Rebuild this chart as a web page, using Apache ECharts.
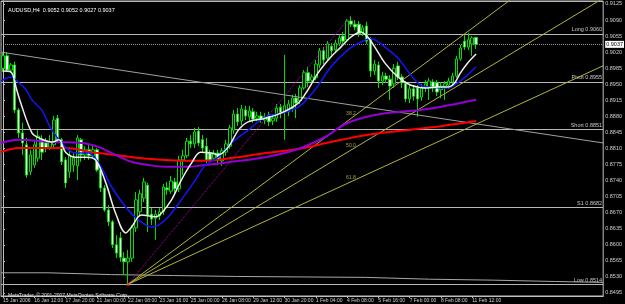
<!DOCTYPE html>
<html><head><meta charset="utf-8">
<script src="https://cdn.jsdelivr.net/npm/echarts@6/dist/echarts.min.js"></script>
<style>html,body{margin:0;padding:0;background:#000;}#c{width:625px;height:304px;}</style>
</head><body><div id="c"></div>
<script>
// ---- data ----
const symbolName = 'AUDUSD,H4';
const copyrightText = 'MetaTrader, © 2001-2007 MetaQuotes Software Corp.';
const timeLabels = ['15 Jan 2006','16 Jan 12:00','17 Jan 20:00','21 Jan 00:00','22 Jan 08:00','23 Jan 16:00','25 Jan 00:00','26 Jan 08:00','29 Jan 12:00','30 Jan 20:00','1 Feb 04:00','4 Feb 08:00','5 Feb 16:00','7 Feb 00:00','8 Feb 08:00','11 Feb 12:00'];
const labelEvery = 8;
const totalSlots = 154;
const priceTicks = [0.8495,0.8530,0.8565,0.8600,0.8635,0.8670,0.8705,0.8740,0.8775,0.8810,0.8845,0.8880,0.8915,0.8950,0.8985,0.9020,0.9055,0.9090,0.9125];
const priceMin = 0.84884, priceMax = 0.91315;
// candles: [open, close, low, high]
const candleOCLH = [
[0.8985,0.9012,0.8977,0.9018],[0.9012,0.8981,0.8977,0.9020],[0.8981,0.8992,0.8975,0.8996],[0.8992,0.8894,0.8887,0.8999],
[0.8894,0.8844,0.8833,0.8898],[0.8844,0.8822,0.8796,0.8866],[0.8818,0.8752,0.8746,0.8833],[0.8759,0.8796,0.8752,0.8807],
[0.8774,0.8818,0.8768,0.8829],[0.8789,0.8837,0.8781,0.8850],[0.8829,0.8802,0.8785,0.8839],[0.8822,0.8811,0.8802,0.8833],
[0.8813,0.8824,0.8807,0.8839],[0.8818,0.8872,0.8813,0.8881],[0.8876,0.8829,0.8824,0.8883],[0.8829,0.8781,0.8774,0.8833],
[0.8785,0.8735,0.8724,0.8791],[0.8759,0.8796,0.8746,0.8807],[0.8774,0.8789,0.8759,0.8800],[0.8772,0.8833,0.8741,0.8839],
[0.8829,0.8796,0.8781,0.8833],[0.8796,0.8807,0.8785,0.8815],[0.8807,0.8794,0.8785,0.8818],[0.8794,0.8807,0.8789,0.8815],
[0.8807,0.8763,0.8759,0.8811],[0.8763,0.8724,0.8715,0.8774],[0.8724,0.8676,0.8672,0.8730],[0.8676,0.8650,0.8641,0.8687],
[0.8650,0.8600,0.8593,0.8654],[0.8600,0.8582,0.8571,0.8621],[0.8615,0.8573,0.8563,0.8628],[0.8571,0.8563,0.8534,0.8584],
[0.8563,0.8571,0.8514,0.8589],[0.8571,0.8637,0.8563,0.8643],[0.8637,0.8698,0.8628,0.8715],[0.8672,0.8711,0.8663,0.8720],
[0.8702,0.8737,0.8693,0.8746],[0.8730,0.8665,0.8628,0.8735],[0.8667,0.8656,0.8643,0.8680],[0.8658,0.8667,0.8611,0.8676],
[0.8663,0.8672,0.8654,0.8680],[0.8672,0.8726,0.8665,0.8733],[0.8724,0.8720,0.8709,0.8737],[0.8717,0.8739,0.8711,0.8750],
[0.8737,0.8722,0.8713,0.8746],[0.8722,0.8785,0.8715,0.8794],[0.8785,0.8794,0.8752,0.8807],[0.8794,0.8826,0.8789,0.8833],
[0.8826,0.8820,0.8811,0.8839],[0.8820,0.8846,0.8811,0.8855],[0.8848,0.8822,0.8815,0.8857],[0.8829,0.8811,0.8802,0.8839],
[0.8815,0.8785,0.8778,0.8833],[0.8800,0.8785,0.8778,0.8807],[0.8789,0.8800,0.8783,0.8807],[0.8800,0.8785,0.8774,0.8807],
[0.8783,0.8805,0.8772,0.8811],[0.8802,0.8820,0.8794,0.8829],[0.8815,0.8855,0.8809,0.8861],[0.8850,0.8885,0.8842,0.8894],
[0.8885,0.8868,0.8859,0.8898],[0.8870,0.8896,0.8861,0.8905],[0.8894,0.8881,0.8872,0.8903],[0.8879,0.8892,0.8870,0.8903],
[0.8890,0.8874,0.8866,0.8898],[0.8876,0.8881,0.8870,0.8890],[0.8881,0.8874,0.8866,0.8890],[0.8872,0.8879,0.8863,0.8887],
[0.8883,0.8868,0.8859,0.8890],[0.8870,0.8876,0.8861,0.8885],[0.8876,0.8898,0.8868,0.8907],[0.8900,0.8887,0.8876,0.8907],
[0.8890,0.8903,0.8829,0.9014],[0.8890,0.8907,0.8881,0.8916],[0.8898,0.8920,0.8890,0.8927],[0.8920,0.8909,0.8876,0.8929],
[0.8914,0.8942,0.8907,0.8948],[0.8942,0.8975,0.8938,0.8981],[0.8975,0.8957,0.8944,0.8988],[0.8959,0.8966,0.8948,0.8972],
[0.8964,0.8994,0.8959,0.9003],[0.8992,0.9023,0.8985,0.9029],[0.9023,0.9003,0.8994,0.9031],[0.9007,0.9038,0.9003,0.9044],
[0.9033,0.9023,0.9014,0.9040],[0.9025,0.9040,0.9020,0.9047],[0.9038,0.9051,0.9033,0.9057],[0.9055,0.9044,0.9038,0.9064],
[0.9047,0.9088,0.9042,0.9092],[0.9088,0.9081,0.9075,0.9099],[0.9081,0.9075,0.9068,0.9090],[0.9081,0.9060,0.9053,0.9088],
[0.9062,0.9073,0.9055,0.9079],[0.9077,0.9044,0.9038,0.9086],[0.9047,0.8979,0.8966,0.9053],[0.8979,0.8994,0.8970,0.9003],
[0.8992,0.8957,0.8942,0.8999],[0.8957,0.8968,0.8948,0.8977],[0.8968,0.8961,0.8953,0.8975],[0.8961,0.8946,0.8916,0.8970],
[0.8951,0.8985,0.8942,0.8994],[0.8990,0.8966,0.8959,0.8999],[0.8966,0.8953,0.8942,0.8972],[0.8951,0.8918,0.8911,0.8957],
[0.8918,0.8940,0.8909,0.8948],[0.8940,0.8924,0.8914,0.8948],[0.8942,0.8918,0.8879,0.8948],[0.8922,0.8942,0.8914,0.8951],
[0.8942,0.8951,0.8933,0.8959],[0.8944,0.8957,0.8916,0.8964],[0.8955,0.8942,0.8933,0.8961],[0.8953,0.8933,0.8924,0.8959],
[0.8938,0.8946,0.8920,0.8955],[0.8946,0.8951,0.8916,0.8957],[0.8948,0.8957,0.8940,0.8964],[0.8955,0.8968,0.8948,0.8975],
[0.8968,0.9005,0.8964,0.9012],[0.9005,0.9029,0.9001,0.9036],[0.9044,0.9031,0.9025,0.9057],[0.9031,0.9047,0.9025,0.9062],
[0.9038,0.9051,0.9012,0.9055],[0.9052,0.9037,0.9027,0.9052]
];
// moving averages: [bar index, price]
const maWhite = [[0,0.8979],[2,0.8977],[3.5,0.8938],[4.5,0.8910],[7.4,0.8844],[9.2,0.8833],[12.5,0.8824],[14.3,0.8829],[16,0.8802],[18.6,0.8791],[21.2,0.8791],[23.7,0.8785],[26.3,0.8735],[28.8,0.8669],[31.4,0.8626],[32.9,0.8639],[35.4,0.8665],[39,0.8661],[40.5,0.8669],[43.1,0.8698],[45.6,0.8741],[48.2,0.8778],[50.5,0.8802],[53.3,0.8800],[55.1,0.8796],[57.6,0.8813],[60.2,0.8850],[62.7,0.8868],[67.1,0.8876],[71.1,0.8887],[75.5,0.8909],[78,0.8938],[80.6,0.8975],[83.9,0.9010],[86.4,0.9031],[89,0.9053],[91.5,0.9064],[93.3,0.9053],[95.1,0.9031],[97.7,0.8996],[101,0.8966],[104.3,0.8948],[108.6,0.8942],[111.2,0.8944],[113.7,0.8944],[115.5,0.8953],[117,0.8975],[118.8,0.8996],[121,0.9016]];
const maBlue = [[-0.5,0.8957],[2,0.8966],[4.1,0.8953],[5.9,0.8938],[7.4,0.8916],[9.9,0.8894],[12.5,0.8850],[16,0.8813],[18.6,0.8800],[21.9,0.8800],[24.5,0.8778],[27.8,0.8726],[31.4,0.8682],[34.7,0.8654],[38,0.8639],[39.8,0.8643],[42.3,0.8661],[45.6,0.8698],[49.2,0.8741],[51.8,0.8774],[55.1,0.8791],[58.4,0.8822],[62.7,0.8850],[67.1,0.8879],[71.1,0.8887],[75.5,0.8900],[79.8,0.8938],[83.9,0.8988],[88.2,0.9025],[91.5,0.9042],[94.1,0.9049],[97.7,0.9031],[101,0.9007],[104.3,0.8970],[106.8,0.8948],[108.6,0.8944],[113.7,0.8942],[116.3,0.8953],[118.8,0.8970],[121,0.8988]];
const maPurple = [[-0.5,0.8822],[4.1,0.8829],[12.5,0.8824],[20.1,0.8822],[24.5,0.8813],[28.8,0.8796],[32.9,0.8781],[37.2,0.8774],[41.6,0.8770],[46.7,0.8770],[51.8,0.8774],[58.4,0.8781],[67.1,0.8791],[75.5,0.8809],[82.4,0.8835],[88.2,0.8866],[96.6,0.8885],[108.6,0.8896],[121,0.8916]];
const maRed = [[-0.5,0.8802],[4.1,0.8811],[16,0.8811],[22.7,0.8802],[28.8,0.8796],[34.7,0.8789],[41.6,0.8785],[50,0.8783],[58.4,0.8789],[67.1,0.8800],[75.5,0.8809],[83.9,0.8824],[92.6,0.8839],[101,0.8848],[108.6,0.8855],[121,0.8870]];
// level lines
const levelNames = ['Long','Pivot','Short','S1','Low'];
const levelValues = [0.9060,0.8955,0.8851,0.8682,0.8514];
const topLevel = 0.9131;
const currentPrice = 0.9037;
// descending trendline anchors [bar index, price]
const trendLine = [[-0.5,0.9020],[153.5,0.8822]];
// Fibonacci fan anchors
const fanOrigin = [32, 0.8514];
const fanPeak = [89, 0.9099];
const fanLevels = [38.2, 50.0, 61.8];
// step line near the bottom: segment start bar index and price
const stairX = [-0.5,11.5,27.8,43.6,59.7,75.5,92.8,109.1,125.2,141.3];
const stairP = [0.8539,0.8535,0.8533,0.8531,0.8530,0.8529,0.8525,0.8523,0.8520,0.8518];

// ---- chart ----
const FONT = "'Liberation Sans Narrow','Liberation Sans',Arial,sans-serif";
const categories = [];
for (let i = 0; i < totalSlots; i++) {
  const k = i / labelEvery;
  categories.push(i % labelEvery === 0 && k < timeLabels.length ? timeLabels[k] : '');
}
const showIdx = (i) => i % labelEvery === 0 && i / labelEvery < timeLabels.length;
const last = candleOCLH[candleOCLH.length - 1];
const titleText = symbolName + '  ' + [last[0], last[3], last[2], last[1]].map(v => v.toFixed(4)).join(' ');
const xEnd = totalSlots - 0.5;

const fanSeries = [];
const fanLabelData = [];
fanLevels.forEach(lv => {
  const pL = fanPeak[1] - lv / 100 * (fanPeak[1] - fanOrigin[1]);
  const slope = (pL - fanOrigin[1]) / (fanPeak[0] - fanOrigin[0]);
  fanSeries.push({
    type: 'line', xAxisIndex: 1, symbol: 'none', silent: true, clip: true, z: 4,
    lineStyle: { color: '#b4b43a', width: 1 },
    data: [fanOrigin, [xEnd, fanOrigin[1] + slope * (xEnd - fanOrigin[0])]]
  });
  fanLabelData.push([fanPeak[0], pL, lv.toFixed(1)]);
});

const stairData = stairX.map((x, i) => [x, stairP[i]]);
stairData.push([xEnd, stairP[stairP.length - 1]]);

const levelMarks = levelNames.map((n, i) => ({
  yAxis: levelValues[i],
  label: { show: true, position: 'insideEndTop', formatter: n + ' ' + levelValues[i].toFixed(4),
           color: '#c8c8c8', fontSize: 5.5, fontFamily: FONT, distance: [1, 1] }
}));
levelMarks.push({ yAxis: topLevel, label: { show: false } });
levelMarks.push({
  yAxis: currentPrice, lineStyle: { type: 'dotted', color: '#9a9a9a' },
  label: { show: true, position: 'end', formatter: currentPrice.toFixed(4), color: '#000',
           backgroundColor: '#fff', fontSize: 5.5, fontFamily: FONT, padding: [1, 1, 0, 1], distance: 2 }
});

const maLine = (data, color, width) => ({
  type: 'line', xAxisIndex: 1, symbol: 'none', smooth: 0.35, silent: true, z: 5,
  lineStyle: { color, width }, data
});

const option = {
  backgroundColor: '#000000',
  animation: false,
  title: [
    { text: titleText, left: 3, top: 2, textStyle: { color: '#ffffff', fontSize: 5.5, fontWeight: 'normal', fontFamily: FONT } },
    { text: copyrightText, left: 3, top: 288, textStyle: { color: '#e0e0e0', fontSize: 5, fontWeight: 'normal', fontFamily: FONT } }
  ],
  grid: { left: 1, right: 19, top: 1, bottom: 8, show: true, borderColor: '#c0c0c0', borderWidth: 1, backgroundColor: 'transparent' },
  xAxis: [
    { type: 'category', data: categories, boundaryGap: true,
      axisLine: { show: true, lineStyle: { color: '#c0c0c0', width: 1 } },
      axisTick: { show: true, alignWithLabel: true, interval: showIdx, length: 2, lineStyle: { color: '#c0c0c0' } },
      axisLabel: { interval: showIdx, align: 'left', color: '#d0d0d0', fontSize: 5, fontFamily: FONT, margin: 2 },
      splitLine: { show: false } },
    { type: 'value', min: -0.5, max: xEnd, show: false, splitLine: { show: false } }
  ],
  yAxis: {
    type: 'value', position: 'right', min: priceMin, max: priceMax, scale: true,
    axisLine: { show: true, lineStyle: { color: '#c0c0c0' } },
    axisTick: { show: true, customValues: priceTicks, length: 2, lineStyle: { color: '#c0c0c0' } },
    axisLabel: { customValues: priceTicks, formatter: v => v.toFixed(4), color: '#d0d0d0', fontSize: 5.5, fontFamily: "'Liberation Sans',Arial,sans-serif", margin: 2 },
    splitLine: { show: false }
  },
  series: [
    { type: 'line', xAxisIndex: 1, symbol: 'none', silent: true, step: 'end', z: 2,
      lineStyle: { color: '#a8a8a8', width: 1 }, data: stairData },
    { type: 'candlestick', xAxisIndex: 0, barWidth: 3, z: 3,
      itemStyle: { color: '#000000', color0: '#ffffff', borderColor: '#00e000', borderColor0: '#00e000', borderWidth: 1 },
      data: candleOCLH,
      markLine: { symbol: ['none', 'none'], silent: true, animation: false, z: 2, precision: 5,
        lineStyle: { color: '#b8b8b8', width: 1, type: 'solid' }, data: levelMarks }
    },
    { type: 'line', xAxisIndex: 1, symbol: 'none', silent: true, z: 4,
      lineStyle: { color: '#a0a0a0', width: 1 }, data: trendLine },
    ...fanSeries,
    { type: 'line', xAxisIndex: 1, symbol: 'none', silent: true, z: 4,
      lineStyle: { color: '#c000c0', width: 1, type: 'dotted' }, data: [fanOrigin, fanPeak] },
    { type: 'scatter', xAxisIndex: 1, symbolSize: 0, silent: true, z: 6,
      label: { show: true, position: 'top', distance: 2, formatter: p => p.value[2], color: '#c8c850', fontSize: 5, fontFamily: FONT },
      data: fanLabelData },
    { type: 'scatter', xAxisIndex: 1, symbol: 'rect', symbolSize: 3, silent: true, z: 6,
      itemStyle: { color: '#ff3030' }, data: [fanOrigin] },
    maLine(maRed, '#ff0000', 2),
    maLine(maPurple, '#9400d3', 2),
    maLine(maBlue, '#1414ff', 1.5),
    maLine(maWhite, '#f0f0f0', 1.5)
  ]
};
echarts.init(document.getElementById('c'), null, { renderer: 'canvas' }).setOption(option);
</script></body></html>
